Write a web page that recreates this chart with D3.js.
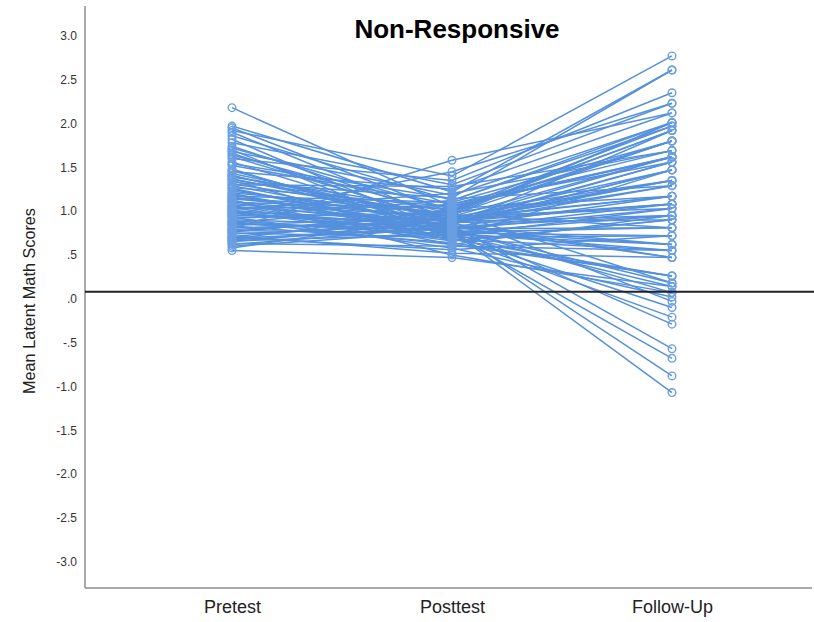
<!DOCTYPE html>
<html>
<head>
<meta charset="utf-8">
<script src="https://cdn.jsdelivr.net/npm/d3@7"></script>
<style>
  body { margin: 0; background: #fff; }
  text { font-family: "Liberation Sans", Arial, sans-serif; }
</style>
</head>
<body>
<script>
// Chart data
let timePoints = ["Pretest", "Posttest", "Follow-Up"];

let pretest = [2.18, 1.97, 1.95, 1.92, 1.90, 1.86, 1.82, 1.78, 1.74, 1.72, 1.70, 1.68, 1.66, 1.64, 1.60, 1.56,
  1.52, 1.48, 1.45, 1.43, 1.41, 1.39, 1.37, 1.35, 1.33, 1.31, 1.29, 1.27, 1.25, 1.23, 1.21, 1.19, 1.17, 1.16,
  1.14, 1.12, 1.10, 1.09, 1.07, 1.05, 1.04, 1.02, 1.01, 0.99, 0.98, 0.96, 0.95, 0.93, 0.92, 0.90, 0.89, 0.87,
  0.86, 0.84, 0.83, 0.81, 0.80, 0.78, 0.77, 0.75, 0.74, 0.72, 0.71, 0.69, 0.68, 0.66, 0.65, 0.63, 0.62, 0.60,
  0.58, 0.55, 1.54, 1.46, 1.36, 1.20, 1.11, 1.00, 0.94, 0.85, 0.79, 0.70, 1.62, 1.30, 1.15, 1.06, 0.97, 0.88,
  0.76, 0.67, 1.40, 1.26, 1.13, 1.03];

let posttest = [1.05, 1.22, 0.98, 1.40, 0.88, 1.12, 0.75, 1.30, 0.92, 1.02, 0.68, 1.18, 0.85, 0.96, 1.35, 0.80,
  1.08, 0.72, 1.25, 0.90, 0.78, 1.00, 0.86, 0.66, 1.15, 0.94, 0.82, 1.05, 0.74, 0.88, 0.97, 0.70, 1.10, 0.84,
  0.92, 0.62, 1.03, 0.79, 0.95, 0.88, 0.68, 1.20, 0.81, 0.90, 0.76, 1.45, 0.86, 0.58, 0.99, 0.83, 0.72, 1.08,
  0.78, 0.93, 0.64, 0.87, 1.58, 0.75, 0.96, 0.70, 0.85, 0.52, 0.91, 0.80, 1.02, 0.74, 0.89, 0.60, 0.82, 0.77,
  0.94, 0.47, 1.14, 0.80, 0.95, 0.73, 0.84, 0.66, 1.12, 0.79, 0.90, 0.56, 0.88, 1.28, 0.98, 0.70, 0.86, 0.62,
  1.00, 0.82, 0.91, 0.76, 0.50, 1.06];

let followUp = [1.62, 2.61, 1.35, 2.77, 0.95, 1.97, 0.55, 2.23, 1.17, 1.80, 0.26, 2.01, 1.47, 0.81, 2.35, 1.08,
  1.69, -0.10, 2.12, 1.29, 0.62, 1.92, 1.56, 0.90, 2.61, 1.03, 0.47, 1.61, 0.14, 1.35, 2.01, 0.72, 1.80, -0.57,
  1.47, 0.95, 1.17, 0.18, 2.01, 1.08, 0.55, 1.69, -0.29, 1.62, 0.81, 2.23, 1.29, 0.02, 1.92, 0.62, 1.03, 1.56,
  -0.88, 1.35, 0.26, 0.90, 2.12, 0.72, 1.80, -0.21, 1.47, 0.47, 1.17, 0.07, 1.97, -0.68, 1.08, 0.55, 0.95, -1.07,
  1.62, 0.14, 1.29, 0.81, -0.03, 0.62, 1.92, 0.90, 2.01, 1.03, 1.35, 0.72, 1.56, 1.69, 0.18, 1.47, 0.47, 0.26,
  1.80, 1.17, 1.08, 0.95, 0.07, 1.62];

let yTicks = [3.0, 2.5, 2.0, 1.5, 1.0, 0.5, 0.0, -0.5, -1.0, -1.5, -2.0, -2.5, -3.0];
let referenceLine = 0.08;
let chartTitle = "Non-Responsive";
let yTitle = "Mean Latent Math Scores";

// Chart Params
let svgWidth = 814;
let svgHeight = 622;
let plot = {left: 85, right: 812, top: 6, bottom: 588};
let lineColor = "#5590dc";

let svg = d3.select("body")
  .append("svg")
  .attr("width", svgWidth)
  .attr("height", svgHeight);

// Scales
let xScale = d3.scalePoint()
  .domain(timePoints)
  .range([232, 672]);

let yScale = d3.scaleLinear()
  .domain([-3.3, 3.34])
  .range([plot.bottom, plot.top]);

// SPSS style labels: ".5", "-.5", "-1.0"
let tickFormat = v => d3.format(".1f")(v).replace("−", "-").replace(/^(-?)0\./, "$1.");

// y axis
let leftAxis = d3.axisLeft(yScale)
  .tickValues(yTicks)
  .tickFormat(tickFormat)
  .tickSize(0)
  .tickPadding(8);

let yAxisG = svg.append("g")
  .attr("transform", `translate(${plot.left}, 0)`)
  .call(leftAxis);
yAxisG.select(".domain").remove();
yAxisG.selectAll("text")
  .attr("font-family", "Liberation Sans, Arial, sans-serif")
  .attr("font-size", 12)
  .attr("fill", "#333");

// x axis
let bottomAxis = d3.axisBottom(xScale)
  .tickSize(0)
  .tickPadding(12);

let xAxisG = svg.append("g")
  .attr("transform", `translate(0, ${plot.bottom})`)
  .call(bottomAxis);
xAxisG.select(".domain").remove();
xAxisG.selectAll("text")
  .attr("font-family", "Liberation Sans, Arial, sans-serif")
  .attr("font-size", 18)
  .attr("fill", "#222");

// axis lines
svg.append("line")
  .attr("x1", plot.left).attr("x2", plot.left)
  .attr("y1", plot.top).attr("y2", plot.bottom)
  .attr("stroke", "#8c8c8c")
  .attr("stroke-width", 1.5);

svg.append("line")
  .attr("x1", plot.left).attr("x2", plot.right)
  .attr("y1", plot.bottom).attr("y2", plot.bottom)
  .attr("stroke", "#8c8c8c")
  .attr("stroke-width", 1.5);

// lines per student
let rows = pretest.map((d, i) => [pretest[i], posttest[i], followUp[i]]);

let line = d3.line()
  .x((d, i) => xScale(timePoints[i]))
  .y(d => yScale(d));

svg.append("g")
  .selectAll("path")
  .data(rows)
  .enter()
  .append("path")
  .attr("d", line)
  .attr("fill", "none")
  .attr("stroke", lineColor)
  .attr("stroke-width", 1.5);

// markers
let points = [];
rows.forEach(r => r.forEach((v, i) => points.push({t: timePoints[i], v: v})));

svg.append("g")
  .selectAll("circle")
  .data(points)
  .enter()
  .append("circle")
  .attr("cx", d => xScale(d.t))
  .attr("cy", d => yScale(d.v))
  .attr("r", 3.8)
  .attr("fill", "none")
  .attr("stroke", "#6a9fe2")
  .attr("stroke-width", 1.4);

// reference line
svg.append("line")
  .attr("x1", plot.left).attr("x2", svgWidth)
  .attr("y1", yScale(referenceLine)).attr("y2", yScale(referenceLine))
  .attr("stroke", "#222")
  .attr("stroke-width", 2);

// titles
svg.append("text")
  .attr("x", 457)
  .attr("y", 38)
  .attr("text-anchor", "middle")
  .attr("font-size", 26)
  .attr("font-weight", "bold")
  .attr("fill", "#000")
  .text(chartTitle);

svg.append("text")
  .attr("transform", `translate(35, 301) rotate(-90)`)
  .attr("text-anchor", "middle")
  .attr("font-size", 17)
  .attr("fill", "#222")
  .attr("textLength", 186)
  .attr("lengthAdjust", "spacingAndGlyphs")
  .text(yTitle);
</script>
</body>
</html>
